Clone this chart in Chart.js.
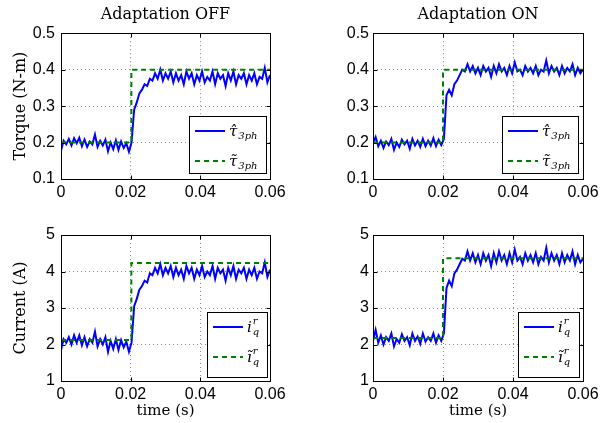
<!DOCTYPE html>
<html>
<head>
<meta charset="utf-8">
<script src="https://cdn.jsdelivr.net/npm/chart.js@4.4.1/dist/chart.umd.min.js"></script>
<style>
body { margin: 0; background: #fff; }
#wrap { position: relative; width: 610px; height: 423px; }
canvas { position: absolute; }
</style>
</head>
<body>
<div id="wrap">
  <canvas id="tauOff" width="305" height="210" style="left:0;top:0"></canvas>
  <canvas id="tauOn" width="305" height="210" style="left:305px;top:0"></canvas>
  <canvas id="iqOff" width="305" height="213" style="left:0;top:210px"></canvas>
  <canvas id="iqOn" width="305" height="213" style="left:305px;top:210px"></canvas>
</div>
<script>
// sample time of the measured signals (s)
var sampleStep = 0.00075;
var sampleTimes = [];
for (var k = 0; k <= 80; k++) sampleTimes.push(+(k * sampleStep).toFixed(5));

// axis ticks
var timeTicks = [0, 0.02, 0.04, 0.06];
var timeTickLabels = ['0', '0.02', '0.04', '0.06'];
var torqueTicks = [0.1, 0.2, 0.3, 0.4, 0.5];
var torqueTickLabels = ['0.1', '0.2', '0.3', '0.4', '0.5'];
var currentTicks = [1, 2, 3, 4, 5];
var currentTickLabels = ['1', '2', '3', '4', '5'];

// reference (dashed) step signals
var refTimesOff = [0, 0.0202, 0.0202, 0.06];
var refTimesOn = [0, 0.0200, 0.0200, 0.06];
var tauOffRef = [0.2, 0.2, 0.4, 0.4];
var tauOnRef = [0.2, 0.2, 0.4, 0.4];
var iqOffRef = [2.12, 2.12, 4.23, 4.23];
var iqOnRef = [2.18, 2.18, 4.36, 4.36];

// measured torque, adaptation OFF (N-m)
var tauOffMeasured = [
  0.178, 0.205, 0.195, 0.210, 0.192, 0.212, 0.198, 0.213, 0.190, 0.208,
  0.188, 0.203, 0.195, 0.222, 0.188, 0.205, 0.192, 0.208, 0.176, 0.200,
  0.182, 0.206, 0.180, 0.203, 0.185, 0.198, 0.175, 0.200, 0.290, 0.310,
  0.335, 0.345, 0.360, 0.355, 0.375, 0.370, 0.390, 0.375, 0.400, 0.370,
  0.390, 0.375, 0.395, 0.365, 0.390, 0.370, 0.385, 0.360, 0.395, 0.375,
  0.390, 0.360, 0.385, 0.370, 0.395, 0.365, 0.380, 0.370, 0.395, 0.360,
  0.390, 0.375, 0.385, 0.355, 0.390, 0.370, 0.395, 0.360, 0.385, 0.375,
  0.390, 0.360, 0.385, 0.370, 0.390, 0.360, 0.380, 0.375, 0.405, 0.365,
  0.385
];

// measured torque, adaptation ON (N-m)
var tauOnMeasured = [
  0.198, 0.215, 0.190, 0.205, 0.185, 0.203, 0.193, 0.210, 0.180, 0.200,
  0.188, 0.208, 0.195, 0.205, 0.183, 0.210, 0.192, 0.205, 0.188, 0.210,
  0.190, 0.205, 0.192, 0.212, 0.190, 0.208, 0.193, 0.210, 0.330, 0.345,
  0.330, 0.360, 0.370, 0.385, 0.400, 0.395, 0.415, 0.395, 0.410, 0.390,
  0.405, 0.385, 0.410, 0.395, 0.405, 0.380, 0.410, 0.390, 0.415, 0.395,
  0.405, 0.385, 0.410, 0.390, 0.420, 0.395, 0.400, 0.385, 0.410, 0.395,
  0.405, 0.390, 0.410, 0.385, 0.400, 0.395, 0.425, 0.390, 0.410, 0.395,
  0.405, 0.385, 0.410, 0.390, 0.405, 0.395, 0.415, 0.385, 0.405, 0.390,
  0.400
];

// measured q-axis current, adaptation OFF (A)
var iqOffMeasured = [
  1.85, 2.15, 2.05, 2.20, 2.00, 2.25, 2.05, 2.25, 1.98, 2.20,
  1.95, 2.15, 2.05, 2.35, 1.95, 2.15, 2.00, 2.20, 1.80, 2.10,
  1.88, 2.15, 1.85, 2.12, 1.92, 2.08, 1.80, 2.05, 3.05, 3.25,
  3.50, 3.60, 3.75, 3.70, 3.95, 3.90, 4.10, 3.95, 4.20, 3.90,
  4.10, 3.95, 4.15, 3.85, 4.10, 3.90, 4.05, 3.80, 4.15, 3.95,
  4.10, 3.80, 4.05, 3.90, 4.15, 3.85, 4.00, 3.90, 4.15, 3.80,
  4.10, 3.95, 4.05, 3.75, 4.10, 3.90, 4.15, 3.80, 4.05, 3.95,
  4.10, 3.80, 4.05, 3.90, 4.10, 3.80, 4.00, 3.95, 4.25, 3.85,
  4.05
];

// measured q-axis current, adaptation ON (A)
var iqOnMeasured = [
  2.10, 2.40, 2.05, 2.25, 2.00, 2.20, 2.10, 2.30, 1.95, 2.15,
  2.05, 2.28, 2.10, 2.20, 1.98, 2.30, 2.10, 2.22, 2.02, 2.30,
  2.08, 2.20, 2.10, 2.30, 2.05, 2.25, 2.10, 2.30, 3.55, 3.75,
  3.60, 3.95, 4.05, 4.20, 4.35, 4.30, 4.55, 4.30, 4.50, 4.25,
  4.45, 4.20, 4.50, 4.30, 4.45, 4.15, 4.50, 4.25, 4.55, 4.30,
  4.45, 4.20, 4.50, 4.25, 4.60, 4.30, 4.40, 4.20, 4.50, 4.30,
  4.45, 4.25, 4.50, 4.20, 4.40, 4.30, 4.65, 4.25, 4.50, 4.30,
  4.45, 4.20, 4.50, 4.25, 4.45, 4.30, 4.55, 4.20, 4.45, 4.25,
  4.35
];

var tickFont = { family: '"Liberation Sans", Arial, sans-serif', size: 16 };
var serifFont = '"DejaVu Serif", serif';

function toPoints(xs, ys) {
  return xs.map(function (x, i) { return { x: x, y: ys[i] }; });
}

// label like  base_sub^sup  drawn in italic serif
function drawMath(ctx, m, x, y) {
  ctx.fillStyle = '#000';
  ctx.textAlign = 'left';
  ctx.textBaseline = 'alphabetic';
  ctx.font = 'italic 15px ' + serifFont;
  ctx.fillText(m.base, x, y + 5);
  var w = ctx.measureText(m.base).width;
  ctx.font = 'italic 10px ' + serifFont;
  if (m.sub) ctx.fillText(m.sub, x + w + 1, y + 8);
  if (m.sup) ctx.fillText(m.sup, x + w + 1, y - 3);
}

// axes box, inward ticks and the legend inside the plot
var matlabFrame = {
  id: 'matlabFrame',
  afterDraw: function (chart, args, opts) {
    var ctx = chart.ctx, a = chart.chartArea;
    var xs = chart.scales.x, ys = chart.scales.y;
    var L = Math.round(a.left) + 0.5, R = Math.round(a.right) + 0.5;
    var T = Math.round(a.top) + 0.5, B = Math.round(a.bottom) + 0.5;
    ctx.save();
    ctx.setLineDash([]);
    ctx.strokeStyle = '#000';
    ctx.lineWidth = 1;
    ctx.beginPath();
    xs.ticks.forEach(function (t) {
      var px = Math.round(xs.getPixelForValue(t.value)) + 0.5;
      ctx.moveTo(px, B); ctx.lineTo(px, B - 4);
      ctx.moveTo(px, T); ctx.lineTo(px, T + 4);
    });
    ys.ticks.forEach(function (t) {
      var py = Math.round(ys.getPixelForValue(t.value)) + 0.5;
      ctx.moveTo(L, py); ctx.lineTo(L + 4, py);
      ctx.moveTo(R, py); ctx.lineTo(R - 4, py);
    });
    ctx.stroke();
    ctx.strokeRect(L, T, R - L, B - T);

    var lg = opts.legend;
    var bx = Math.round(a.right - lg.right - lg.w);
    var by = Math.round(a.bottom - lg.bottom - lg.h);
    ctx.fillStyle = '#fff';
    ctx.fillRect(bx, by, lg.w, lg.h);
    ctx.strokeRect(bx + 0.5, by + 0.5, lg.w, lg.h);
    chart.data.datasets.forEach(function (ds, i) {
      var ly = by + lg.rows[i];
      ctx.strokeStyle = ds.borderColor;
      ctx.lineWidth = ds.borderWidth;
      ctx.setLineDash(ds.borderDash || []);
      ctx.beginPath();
      ctx.moveTo(bx + 6, ly); ctx.lineTo(bx + 36, ly);
      ctx.stroke();
      drawMath(ctx, ds.mathLabel, bx + 40, ly);
    });
    ctx.restore();
  }
};

function makePanel(p) {
  return new Chart(document.getElementById(p.id), {
    type: 'scatter',
    data: {
      datasets: [{
        label: 'measured',
        data: toPoints(sampleTimes, p.measured),
        showLine: true,
        borderColor: '#0000ff',
        borderWidth: 2,
        pointRadius: 0,
        tension: 0,
        order: 1,
        mathLabel: p.labels[0]
      }, {
        label: 'reference',
        data: toPoints(p.refTimes, p.reference),
        showLine: true,
        borderColor: '#008000',
        borderWidth: 2,
        borderDash: [5, 4],
        pointRadius: 0,
        tension: 0,
        order: 0,
        mathLabel: p.labels[1]
      }]
    },
    options: {
      responsive: false,
      animation: false,
      events: [],
      layout: { padding: { left: 0, right: p.padRight, top: p.padTop, bottom: 0 } },
      scales: {
        x: {
          type: 'linear',
          min: 0, max: 0.06,
          afterBuildTicks: function (s) { s.ticks = timeTicks.map(function (v) { return { value: v }; }); },
          afterFit: function (s) { s.height = p.xHeight; },
          ticks: {
            autoSkip: false, maxRotation: 0, padding: 4, color: '#000', font: tickFont,
            callback: function (v, i) { return timeTickLabels[i]; }
          },
          grid: { color: '#8c8c8c', lineWidth: 1, drawTicks: false },
          border: { display: false, dash: [1, 3] },
          title: {
            display: !!p.xTitle, text: p.xTitle || '', color: '#000',
            font: { family: serifFont, size: 15 }, padding: { top: 0, bottom: 3 }
          }
        },
        y: {
          type: 'linear',
          min: p.yTicks[0], max: p.yTicks[p.yTicks.length - 1],
          afterBuildTicks: function (s) { s.ticks = p.yTicks.map(function (v) { return { value: v }; }); },
          afterFit: function (s) { s.width = p.yWidth; },
          ticks: {
            autoSkip: false, padding: p.yPad, color: '#000', font: tickFont,
            callback: function (v, i) { return p.yLabels[i]; }
          },
          grid: { color: '#8c8c8c', lineWidth: 1, drawTicks: false },
          border: { display: false, dash: [1, 3] },
          title: {
            display: !!p.yTitle, text: p.yTitle || '', color: '#000',
            font: { family: serifFont, size: 16 }, padding: { top: 11, bottom: 0 }
          }
        }
      },
      plugins: {
        legend: { display: false },
        tooltip: { enabled: false },
        title: {
          display: !!p.title, text: p.title || '', fullSize: false, color: '#000',
          font: { family: serifFont, size: 16, weight: 'normal' },
          padding: { top: 5, bottom: 9 }
        },
        matlabFrame: { legend: p.legend }
      }
    },
    plugins: [matlabFrame]
  });
}

var tauLabels = [{ base: 'τ\u0302', sub: '3ph' }, { base: 'τ\u0303', sub: '3ph' }];
var iqLabels = [{ base: 'i', sub: 'q', sup: 'r' }, { base: '\u0129', sub: 'q', sup: 'r' }];

makePanel({
  id: 'tauOff', title: 'Adaptation OFF', yTitle: 'Torque (N-m)',
  measured: tauOffMeasured, refTimes: refTimesOff, reference: tauOffRef,
  yTicks: torqueTicks, yLabels: torqueTickLabels, labels: tauLabels,
  yWidth: 61, yPad: 6, xHeight: 31, padRight: 35, padTop: 0,
  legend: { w: 77, h: 57, right: 4, bottom: 6, rows: [15, 45] }
});
makePanel({
  id: 'tauOn', title: 'Adaptation ON',
  measured: tauOnMeasured, refTimes: refTimesOn, reference: tauOnRef,
  yTicks: torqueTicks, yLabels: torqueTickLabels, labels: tauLabels,
  yWidth: 68, yPad: 4, xHeight: 31, padRight: 27, padTop: 0,
  legend: { w: 76, h: 57, right: 5, bottom: 6, rows: [15, 45] }
});
makePanel({
  id: 'iqOff', yTitle: 'Current (A)', xTitle: 'time (s)',
  measured: iqOffMeasured, refTimes: refTimesOff, reference: iqOffRef,
  yTicks: currentTicks, yLabels: currentTickLabels, labels: iqLabels,
  yWidth: 61, yPad: 6, xHeight: 42, padRight: 35, padTop: 25,
  legend: { w: 60, h: 65, right: 3, bottom: 4, rows: [15, 45] }
});
makePanel({
  id: 'iqOn', xTitle: 'time (s)',
  measured: iqOnMeasured, refTimes: refTimesOn, reference: iqOnRef,
  yTicks: currentTicks, yLabels: currentTickLabels, labels: iqLabels,
  yWidth: 68, yPad: 4, xHeight: 42, padRight: 27, padTop: 25,
  legend: { w: 61, h: 65, right: 4, bottom: 4, rows: [15, 45] }
});
</script>
</body>
</html>
